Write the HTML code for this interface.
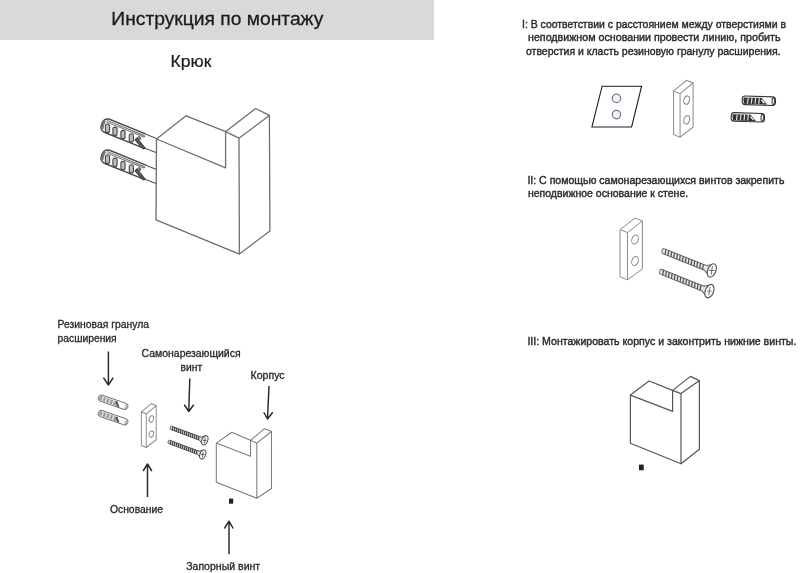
<!DOCTYPE html>
<html><head><meta charset="utf-8">
<style>
html,body{margin:0;padding:0;background:#fff;width:800px;height:573px;overflow:hidden}
svg{display:block;will-change:transform}
text{font-family:"Liberation Sans",sans-serif}
</style></head>
<body>
<svg width="800" height="573" viewBox="0 0 800 573">
<defs>

  <!-- base plate relative to P1 (step II size) -->
  <g id="plate">
    <path d="M0 0 L15 -11.5 L22.3 -8.6 L7.4 3 Z M0 0 L0 47.3 L7.4 50.3 L7.4 3 M7.4 50.3 L22.3 39.4 L22.3 -8.6"/>
    <ellipse cx="15" cy="10" rx="3.2" ry="4.6" transform="rotate(18 15 10)"/>
    <ellipse cx="15" cy="31.5" rx="3.2" ry="4.6" transform="rotate(18 15 31.5)"/>
  </g>
  <!-- screw local: tip at 0,0 axis +x, length 54 -->
  <g id="screw">
    <path d="M1.5 -2.4 Q0 -2 0.5 0 Q0.3 2.2 2 2.6 L47 2.6 L53 6 L53 -6 L47 -2.6 Z" fill="#e6e6e6" stroke="#6a6a6a" stroke-width="1"/>
    <path d="M3.50 -2.6 L4.80 2.6 M6.60 -2.6 L7.90 2.6 M9.70 -2.6 L11.00 2.6 M12.80 -2.6 L14.10 2.6 M15.90 -2.6 L17.20 2.6 M19.00 -2.6 L20.30 2.6 M22.10 -2.6 L23.40 2.6 M25.20 -2.6 L26.50 2.6 M28.30 -2.6 L29.60 2.6 M31.40 -2.6 L32.70 2.6 M34.50 -2.6 L35.80 2.6 M37.60 -2.6 L38.90 2.6 M40.70 -2.6 L42.00 2.6 M43.80 -2.6 L45.10 2.6" stroke="#555" stroke-width="1.3"/>
    <ellipse cx="54" cy="0" rx="4.1" ry="7" fill="#fff" stroke="#5a5a5a" stroke-width="1.2"/>
    <path d="M53 -4.2 L55 4.2 M51.5 1 L56.5 -1" stroke="#666" stroke-width="0.9"/>
  </g>
  <g id="screw2">
    <path d="M1.5 -2.4 Q0 -2 0.5 0 Q0.3 2.2 2 2.6 L47 2.6 L53 6 L53 -6 L47 -2.6 Z" fill="#d8d8d8" stroke="#5a5a5a" stroke-width="1.3"/>
    <path d="M3.50 -2.6 L4.80 2.6 M6.60 -2.6 L7.90 2.6 M9.70 -2.6 L11.00 2.6 M12.80 -2.6 L14.10 2.6 M15.90 -2.6 L17.20 2.6 M19.00 -2.6 L20.30 2.6 M22.10 -2.6 L23.40 2.6 M25.20 -2.6 L26.50 2.6 M28.30 -2.6 L29.60 2.6 M31.40 -2.6 L32.70 2.6 M34.50 -2.6 L35.80 2.6 M37.60 -2.6 L38.90 2.6 M40.70 -2.6 L42.00 2.6 M43.80 -2.6 L45.10 2.6" stroke="#444" stroke-width="1.75"/>
    <ellipse cx="54" cy="0" rx="4.1" ry="7" fill="#fff" stroke="#555" stroke-width="1.5"/>
    <path d="M53 -4.2 L55 4.2 M51.5 1 L56.5 -1" stroke="#555" stroke-width="1.2"/>
  </g>
  <!-- dark dowel (step I) local: left end at 0, length 34, half-thickness 4.6 -->
  <g id="dowelA">
    <rect x="0" y="-4.3" width="33.3" height="8.6" rx="3" fill="#fff" stroke="#333" stroke-width="1.1"/>
    <path d="M1.5 -2.7 L19.3 -2.7 L25 3.6 L2 3.6 Q0.8 0.5 1.5 -2.7 Z" fill="#333"/>
    <path d="M5.9 -2.4 L5.4 3.2 M9.7 -2.4 L9.2 3.2 M13.4 -2.4 L12.9 3.2 M17.1 -2.4 L16.6 3.2" stroke="#f0f0f0" stroke-width="1.1"/>
    <path d="M19.3 -0.8 L22.3 2.4" stroke="#fff" stroke-width="1.3" fill="none"/>
    <ellipse cx="31" cy="0" rx="1.2" ry="3.5" fill="none" stroke="#333" stroke-width="1"/>
  </g>
  <!-- light dowel (exploded) local: length 31, half 2.7 -->
  <g id="dowelB">
    <rect x="0" y="-3.2" width="31" height="6.4" rx="2.8" fill="#fff" stroke="#6e6e6e" stroke-width="0.9"/>
    <path d="M1.2 -2.1 L19 -2.1 L22.5 2.4 L1.5 2.4 Q0.6 0 1.2 -2.1 Z" fill="#9a9a9a"/>
    <path d="M4.6 -2 L4.4 2.3 M8.3 -2 L8.1 2.3 M12 -2 L11.8 2.3 M15.7 -2 L15.5 2.3" stroke="#eee" stroke-width="1.3"/>
    <path d="M18.5 -1.8 L22.3 2.6" stroke="#444" stroke-width="1.5"/>
    <ellipse cx="29.4" cy="0" rx="0.9" ry="2.3" fill="none" stroke="#888" stroke-width="0.8"/>
  </g>
  <!-- big dowel local: tip at 0 axis +x, half 6.5 -->
  <g id="dowelC">
    <path d="M44.9 -7 L5.5 -7 Q0 -6.5 0 0 Q0 6.6 5.5 7 L49.2 7" fill="#fff" stroke="#4a4a4a" stroke-width="1.4"/>
    <path d="M3.5 -5 L43 -5 Q45.5 -4.4 44 -3.4 L3.5 -3.4" fill="none" stroke="#6a6a6a" stroke-width="1"/>
    <path d="M1.8 -3 Q1 0.5 2.5 5" stroke="#777" stroke-width="2.2" stroke-linecap="round" fill="none"/>
    <g fill="#bdbdbd" stroke="#454545" stroke-width="1.1">
    <rect x="-2.1" y="-4.2" width="4.2" height="8.4" rx="2" transform="translate(7 2.1) rotate(-22)"/>
    <rect x="-2.1" y="-4.2" width="4.2" height="8.4" rx="2" transform="translate(15.1 2.1) rotate(-22)"/>
    <rect x="-2.1" y="-4.2" width="4.2" height="8.4" rx="2" transform="translate(23.7 2.1) rotate(-22)"/>
    <rect x="-2.1" y="-4.2" width="4.2" height="8.4" rx="2" transform="translate(32.7 2.1) rotate(-22)"/>
    </g>
    <path d="M37.5 0.5 Q43 2.5 49.5 6.5 L48 7.8 Q41.5 5 37 2.5 Z" fill="#666" stroke="#3a3a3a" stroke-width="1.1"/>
    <circle cx="40" cy="-0.4" r="1.7" fill="#888" stroke="#444" stroke-width="0.8"/>
  </g>
</defs>
<rect x="0" y="0" width="434" height="40" fill="#d9d9d9"/>
<g fill="#1c1c1c" stroke="#1c1c1c" stroke-width="0.3">
<text x="111.3" y="24.8" font-size="18.6" textLength="212" lengthAdjust="spacingAndGlyphs">Инструкция по монтажу</text>
<text x="170.6" y="66.9" font-size="15.9" textLength="40.8" lengthAdjust="spacingAndGlyphs" stroke-width="0.2">Крюк</text>
</g>
<g fill="#2b2b2b" stroke="#2b2b2b" stroke-width="0.42" font-size="11">
<text x="522" y="28.1" textLength="264" lengthAdjust="spacingAndGlyphs">I: В соответствии с расстоянием между отверстиями в</text>
<text x="528" y="40.9" textLength="252.5" lengthAdjust="spacingAndGlyphs">неподвижном основании провести линию, пробить</text>
<text x="526" y="54.5" textLength="254.5" lengthAdjust="spacingAndGlyphs">отверстия и класть резиновую гранулу расширения.</text>
<text x="527.4" y="184.1" textLength="257" lengthAdjust="spacingAndGlyphs">II: С помощью самонарезающихся винтов закрепить</text>
<text x="527.9" y="196.9" textLength="160.3" lengthAdjust="spacingAndGlyphs">неподвижное основание к стене.</text>
<text x="527.4" y="345.4" textLength="269" lengthAdjust="spacingAndGlyphs">III: Монтажировать корпус и законтрить нижние винты.</text>
</g>
<g fill="#262626" stroke="#262626" stroke-width="0.3" font-size="10.6">
<text x="57.5" y="328" textLength="91.5" lengthAdjust="spacingAndGlyphs">Резиновая гранула</text>
<text x="57.5" y="341.8" textLength="59.2" lengthAdjust="spacingAndGlyphs">расширения</text>
<text x="141.6" y="356.9" textLength="99" lengthAdjust="spacingAndGlyphs">Самонарезающийся</text>
<text x="180.6" y="370.9" textLength="21.6" lengthAdjust="spacingAndGlyphs">винт</text>
<text x="250.5" y="378.8" textLength="34.1" lengthAdjust="spacingAndGlyphs">Корпус</text>
<text x="109.9" y="512.6" font-size="11" textLength="53.2" lengthAdjust="spacingAndGlyphs">Основание</text>
<text x="186.2" y="569.6" font-size="11" textLength="74" lengthAdjust="spacingAndGlyphs">Запорный винт</text>
</g>

<!-- big hook -->
<g fill="none" stroke="#6e6e6e" stroke-width="1.3" stroke-linejoin="round">
  <path d="M156.5 139.0 L186.1 115.8 L225.6 131.7 L225.6 167.9 Z M225.6 131.7 L255.6 108.5 L269.4 115.4 L239.0 138.2 Z M239.0 138.2 L239.4 254.1 L156.0 219.8 L156.5 139.0 M239.4 254.1 L269.9 230.9 L269.4 115.4"/>
</g>
<!-- small hook exploded -->
<g fill="none" stroke="#7c7c7c" stroke-width="1.05" stroke-linejoin="round">
  <path d="M216.3 443.1 L231.7 432.3 L250.5 440.3 L250.5 456.3 Z M250.5 440.3 L264.5 428.7 L271.5 431.5 L256.8 443.1 Z M256.8 443.1 L256.8 498.2 L216.3 482.2 L216.3 443.1 M256.8 498.2 L271.5 488.5 L271.5 431.5"/>
</g>
<!-- step III hook -->
<g fill="none" stroke="#555" stroke-width="1.2" stroke-linejoin="round">
  <path d="M630.4 395.1 L649.1 381.0 L672.6 390.4 L672.6 411.4 Z M672.6 390.4 L690.4 376.4 L699.4 380.6 L681.0 393.6 Z M681.0 393.6 L681.0 463.8 L630.4 443.2 L630.4 395.1 M681.0 463.8 L699.4 449.2 L699.4 380.6"/>
</g>

<!-- arrows -->
<g stroke="#282828" stroke-width="1.45" fill="none" stroke-linecap="butt" stroke-linejoin="round">
  <path d="M108.4 351.5 L108.4 385 M103.4 377.7 L108.4 385 L113.3 377.7"/>
  <path d="M189.8 378.5 L188.75 411.5 M184.25 404.75 L188.75 411.5 L193.7 404.75"/>
  <path d="M269 386 L267.5 419 M263.75 412.25 L267.5 419 L272.75 412.25"/>
  <path d="M147.5 497.1 L147.5 464 M143.1 471 L147.5 464 L151.85 471"/>
  <path d="M229 554.2 L229 521.2 M224.4 528.5 L229 521.2 L233.2 528.5"/>
</g>
<rect x="229" y="498.6" width="4.2" height="5.1" fill="#222"/>
<rect x="639" y="464.6" width="4.7" height="5.7" fill="#222"/>

<!-- step I wall -->
<path d="M602.1 86.2 L641.6 86.2 L631.6 127 L591.9 127 Z" fill="none" stroke="#1e1e1e" stroke-width="1.1"/>
<circle cx="616.5" cy="98.4" r="4.2" fill="#f4f7fb" stroke="#6f7b8c" stroke-width="1.25"/>
<circle cx="616.5" cy="114.6" r="4.2" fill="#f4f7fb" stroke="#6f7b8c" stroke-width="1.25"/>


<!-- big dowels -->
<use href="#dowelC" transform="translate(101.8 123.7) rotate(22)"/>
<use href="#dowelC" transform="translate(101.8 154.7) rotate(22)"/>
<path d="M145.9 134.3 L156.5 138.5 M144.9 148.3 L156 152.5 M145.9 165.3 L156.5 169.5 M144.9 179.3 L156 183.5" stroke="#555" stroke-width="1.2" fill="none"/>

<!-- exploded dowels -->
<use href="#dowelB" transform="translate(98.4 397.2) rotate(19.1)"/>
<use href="#dowelB" transform="translate(98.4 412.6) rotate(19.1)"/>
<!-- exploded plate -->
<g fill="none" stroke="#8a8a8a" stroke-width="1"><use href="#plate" transform="translate(141.35 411.8) scale(0.666 0.71)" style="stroke-width:1.45"/></g>
<!-- exploded screws -->
<g fill="none" stroke="#555" stroke-width="1"><use href="#screw2" transform="translate(169.9 427.3) rotate(20.5) scale(0.69)"/>
<use href="#screw2" transform="translate(167.9 441.4) rotate(20.5) scale(0.69)"/></g>

<!-- step I plate -->
<g fill="none" stroke="#8a8a8a" stroke-width="1"><use href="#plate" transform="translate(673.6 90.9) scale(0.874 0.92)" style="stroke-width:1.15"/></g>
<!-- step I dowels -->
<use href="#dowelA" transform="translate(742.2 100.2) rotate(1.8)"/>
<use href="#dowelA" transform="translate(731.2 116.8) rotate(1.8)"/>

<!-- step II plate -->
<g fill="none" stroke="#8a8a8a" stroke-width="1"><use href="#plate" transform="translate(620.06 229.55)"/></g>
<!-- step II screws -->
<g fill="none" stroke="#555" stroke-width="1"><use href="#screw" transform="translate(661.7 250.3) rotate(21.9)"/>
<use href="#screw" transform="translate(659.3 271) rotate(21.9)"/></g>
</svg>
</body></html>
